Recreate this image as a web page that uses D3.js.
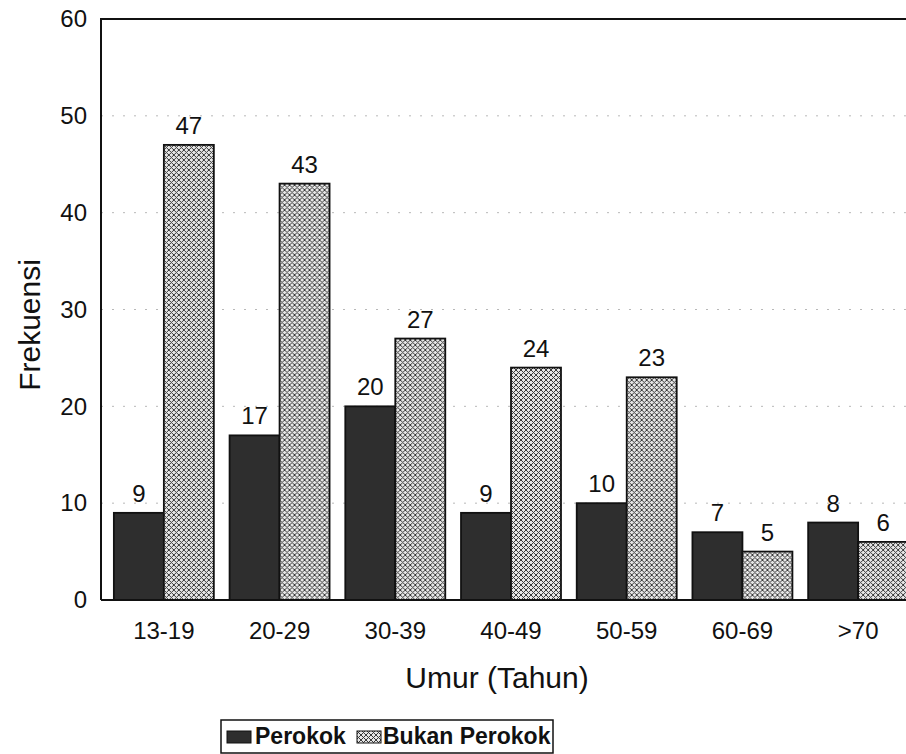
<!DOCTYPE html>
<html>
<head>
<meta charset="utf-8">
<script src="https://cdn.jsdelivr.net/npm/d3@7"></script>
<style>
  html, body { margin: 0; padding: 0; background: #fff; }
  svg { display: block; font-family: "Liberation Sans", Arial, sans-serif; }
</style>
</head>
<body>
<svg id="chart" width="906" height="754"></svg>
<script>
// Age groups and smoker / non-smoker frequencies
const categories = ["13-19", "20-29", "30-39", "40-49", "50-59", "60-69", ">70"];
const seriesNames = ["Perokok", "Bukan Perokok"];
const perokok = [9, 17, 20, 9, 10, 7, 8];
const bukanPerokok = [47, 43, 27, 24, 23, 5, 6];
const yTicks = [0, 10, 20, 30, 40, 50, 60];

const svg = d3.select("#chart");
const W = 906, H = 754;

const plot = { left: 101, top: 19, bottom: 600 };

// crosshatch fill for the non-smoker bars
const defs = svg.append("defs");
const pat = defs.append("pattern")
  .attr("id", "hatch")
  .attr("patternUnits", "userSpaceOnUse")
  .attr("width", 5).attr("height", 5);
pat.append("rect").attr("width", 5).attr("height", 5).attr("fill", "#e6e6e6");
pat.append("path").attr("d", "M0,0 L5,5 M5,0 L0,5")
  .attr("stroke", "#3a3a3a").attr("stroke-width", 1);

const y = d3.scaleLinear().domain([0, 60]).range([plot.bottom, plot.top]);
const x0 = d3.scaleBand().domain(categories).range([106, 916])
  .paddingInner(0.136).paddingOuter(0.068);
const x1 = d3.scaleBand().domain(seriesNames).range([0, x0.bandwidth()]);

const fills = { "Perokok": "#2e2e2e", "Bukan Perokok": "url(#hatch)" };

// faint dotted gridlines
svg.append("g").selectAll("line")
  .data(yTicks.filter(t => t > 0 && t < 60))
  .join("line")
  .attr("x1", plot.left).attr("x2", W)
  .attr("y1", d => y(d)).attr("y2", d => y(d))
  .attr("stroke", "#b8b8b8").attr("stroke-width", 1)
  .attr("stroke-dasharray", "2,9");

// bars
const rows = categories.map((c, i) => ({
  cat: c,
  vals: [
    { key: "Perokok", v: perokok[i] },
    { key: "Bukan Perokok", v: bukanPerokok[i] }
  ]
}));

const groups = svg.append("g").selectAll("g")
  .data(rows).join("g")
  .attr("transform", d => `translate(${x0(d.cat)},0)`);

groups.selectAll("rect")
  .data(d => d.vals).join("rect")
  .attr("x", d => x1(d.key))
  .attr("y", d => y(d.v))
  .attr("width", x1.bandwidth())
  .attr("height", d => y(0) - y(d.v))
  .attr("fill", d => fills[d.key])
  .attr("stroke", "#111").attr("stroke-width", 1.8);

groups.selectAll("text")
  .data(d => d.vals).join("text")
  .attr("x", d => x1(d.key) + x1.bandwidth() / 2)
  .attr("y", d => y(d.v) - 11)
  .attr("text-anchor", "middle")
  .attr("font-size", 24)
  .attr("fill", "#111")
  .text(d => d.v);

// plot frame: left, top, baseline
svg.append("path")
  .attr("d", `M${plot.left},${plot.bottom} L${plot.left},${plot.top} L${W},${plot.top}`)
  .attr("fill", "none").attr("stroke", "#111").attr("stroke-width", 2);
svg.append("line")
  .attr("x1", plot.left).attr("x2", W)
  .attr("y1", plot.bottom).attr("y2", plot.bottom)
  .attr("stroke", "#111").attr("stroke-width", 2);

// y axis labels
const yAxis = d3.axisLeft(y).tickValues(yTicks).tickSize(0).tickPadding(14);
const gy = svg.append("g").attr("transform", `translate(${plot.left},0)`).call(yAxis);
gy.select(".domain").remove();
gy.selectAll("text").attr("font-size", 24).attr("fill", "#111")
  .attr("font-family", "Liberation Sans, Arial, sans-serif");

// x axis labels
const xAxis = d3.axisBottom(x0).tickSize(0).tickPadding(22);
const gx = svg.append("g").attr("transform", `translate(0,${plot.bottom})`).call(xAxis);
gx.select(".domain").remove();
gx.selectAll("text").attr("font-size", 24).attr("fill", "#111")
  .attr("font-family", "Liberation Sans, Arial, sans-serif");

// axis titles
svg.append("text")
  .attr("x", 497).attr("y", 688)
  .attr("text-anchor", "middle")
  .attr("font-size", 30).attr("fill", "#111")
  .text("Umur (Tahun)");

svg.append("text")
  .attr("transform", "translate(40,325) rotate(-90)")
  .attr("text-anchor", "middle")
  .attr("font-size", 30).attr("fill", "#111")
  .text("Frekuensi");

// legend
const lg = svg.append("g").attr("transform", "translate(221,720)");
lg.append("rect").attr("x", 0).attr("y", 0).attr("width", 332).attr("height", 33)
  .attr("fill", "#fff").attr("stroke", "#111").attr("stroke-width", 1.5);
const legendItems = [
  { key: "Perokok", sx: 6, tx: 34 },
  { key: "Bukan Perokok", sx: 136, tx: 162 }
];
legendItems.forEach(it => {
  lg.append("rect").attr("x", it.sx).attr("y", 11).attr("width", 24).attr("height", 12)
    .attr("fill", fills[it.key]).attr("stroke", "#111").attr("stroke-width", 1);
  lg.append("text").attr("x", it.tx).attr("y", 24)
    .attr("font-size", 23).attr("font-weight", "bold").attr("fill", "#111")
    .text(it.key);
});
</script>
</body>
</html>
